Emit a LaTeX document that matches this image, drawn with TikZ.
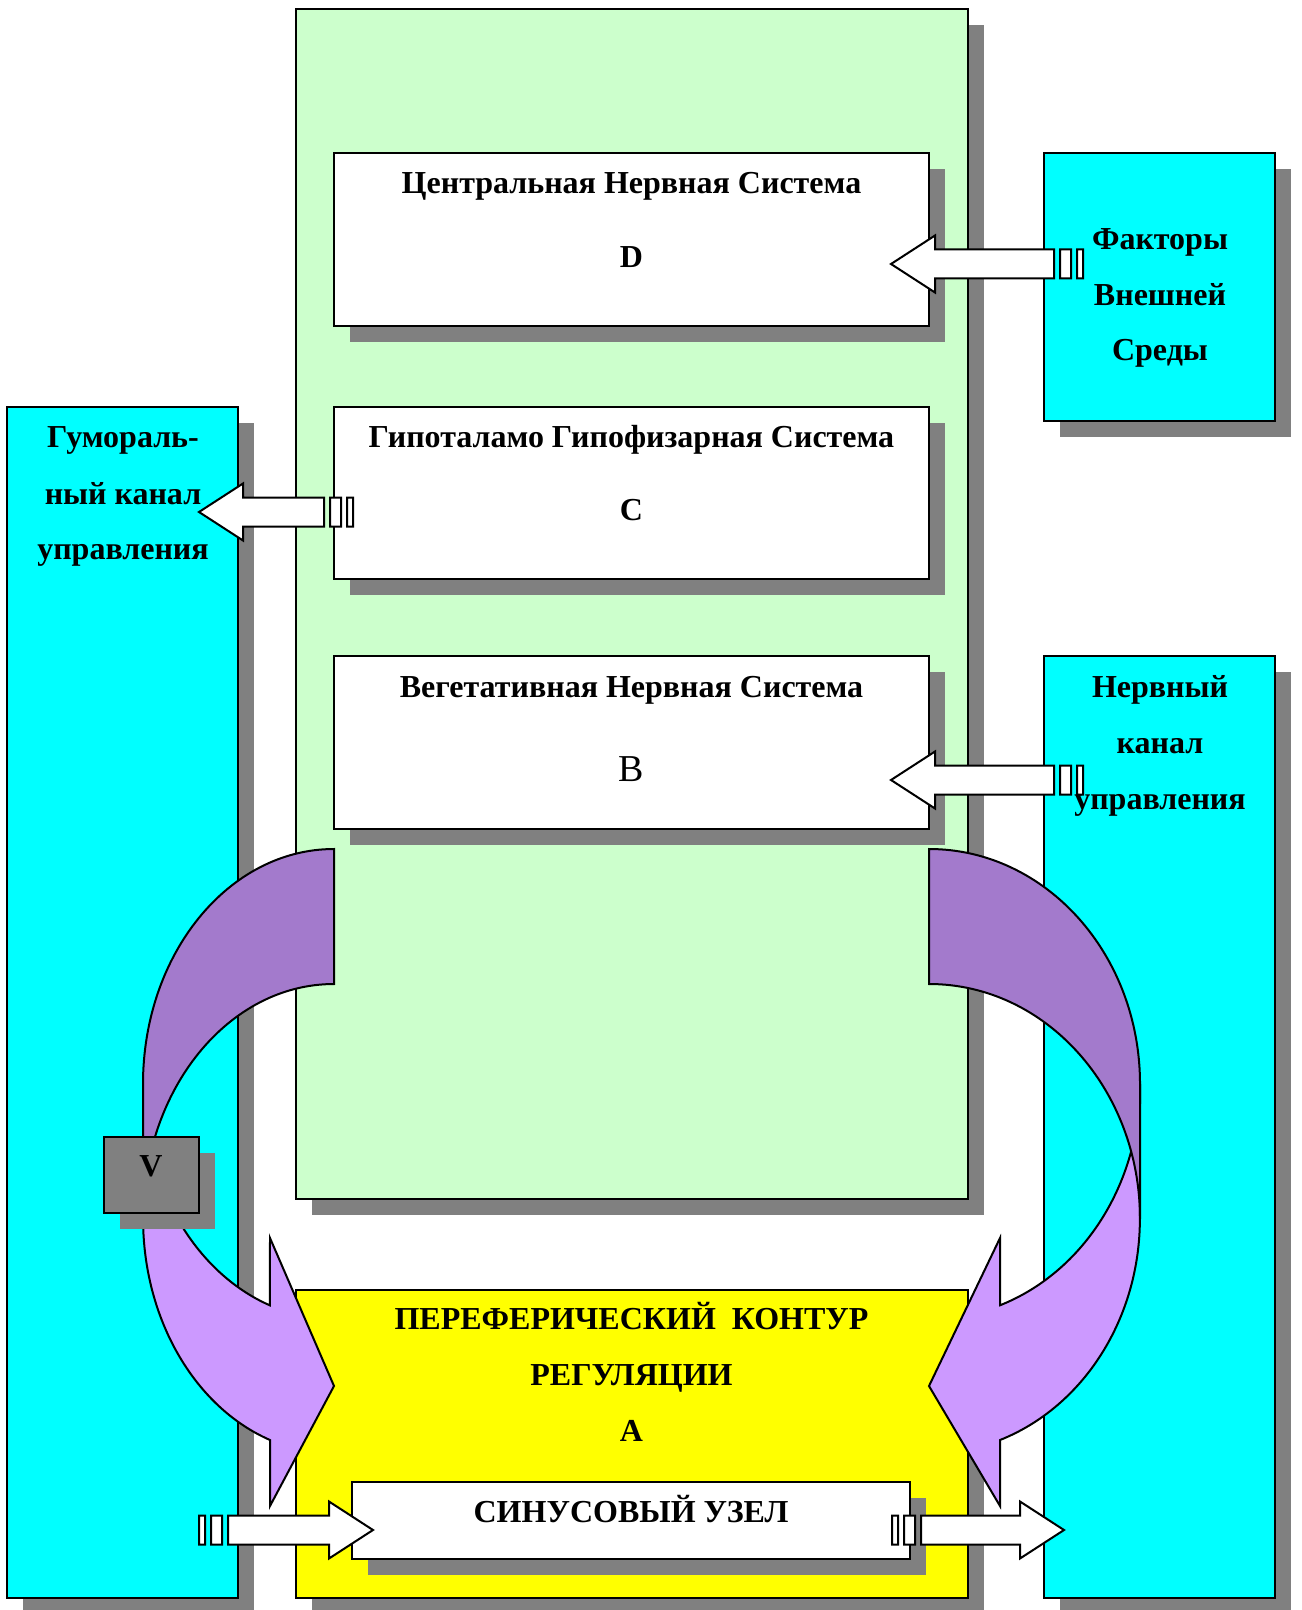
\documentclass[tikz,border=0pt]{standalone}
\usepackage{fontspec}
\setmainfont{Liberation Serif}
\usetikzlibrary{calc,fit,shadows}

\definecolor{greenfill}{HTML}{CCFFCC}
\definecolor{cyanfill}{HTML}{00FFFF}
\definecolor{yellowfill}{HTML}{FFFF00}
\definecolor{shadowgray}{HTML}{808080}
\definecolor{lightviolet}{HTML}{CC99FF}
\definecolor{darkviolet}{HTML}{A37ACC}

% block arrow with two stripes at the tail, from #1 (tail) to #2 (tip)
\newcommand{\stripedarrow}[2]{%
  \draw[blockarrow] let \p1=(#1), \p2=(#2), \n1={sign(\x2-\x1)} in
    (\x1,{\y1-7.25pt}) rectangle ({\x1+\n1*3pt},{\y1+7.25pt})
    ({\x1+\n1*6pt},{\y1-7.25pt}) rectangle ({\x1+\n1*11.5pt},{\y1+7.25pt})
    ({\x1+\n1*14.5pt},{\y1-7.25pt}) -- ({\x2-\n1*22pt},{\y1-7.25pt})
    -- ({\x2-\n1*22pt},{\y1-14.25pt}) -- (\x2,\y1)
    -- ({\x2-\n1*22pt},{\y1+14.25pt}) -- ({\x2-\n1*22pt},{\y1+7.25pt})
    -- ({\x1+\n1*14.5pt},{\y1+7.25pt}) -- cycle;}

\begin{document}
\begin{tikzpicture}[x=0.5pt,y=-0.5pt,
  box/.style={draw,line width=1pt,inner sep=0pt,
    general shadow={fill=shadowgray,shadow xshift=8pt,shadow yshift=-8pt}},
  lbl/.style={font=\bfseries\fontsize{16}{19}\selectfont,inner sep=0pt,
    text height=10.6pt,text depth=0pt},
  curvearrow/.style={draw,line width=1pt},
  blockarrow/.style={draw,fill=white,line width=1pt}]

  \useasboundingbox (0,0) rectangle (1301,1610);

  % boxes
  \node[box,fill=greenfill,fit={(296,9) (968,1199)}] (frame) {};
  \node[box,fill=cyanfill,fit={(7,407) (238,1598)}] (humoral) {};
  \node[box,fill=cyanfill,fit={(1044,153) (1275,421)}] (external) {};
  \node[box,fill=cyanfill,fit={(1044,656) (1275,1598)}] (nervous) {};
  \node[box,fill=white,fit={(334,153) (929,326)}] (cns) {};
  \node[box,fill=white,fit={(334,407) (929,579)}] (hypo) {};
  \node[box,fill=white,fit={(334,656) (929,829)}] (veg) {};
  \node[box,fill=yellowfill,fit={(296,1290) (968,1598)}] (periph) {};
  \node[box,fill=white,fit={(352,1482) (910,1559)}] (sinus) {};

  % curved arrows
  \draw[curvearrow,fill=lightviolet] (143,1084)
    arc[start angle=180,end angle=109.6,x radius=191,y radius=235]
    -- (270,1238) -- (334,1386) -- (270,1506) -- (270,1440)
    arc[start angle=109.6,end angle=180,x radius=191,y radius=235] -- cycle;
  \draw[curvearrow,fill=darkviolet] (334,849)
    arc[start angle=270,end angle=180,x radius=191,y radius=235]
    -- (143,1219)
    arc[start angle=180,end angle=270,x radius=191,y radius=235] -- cycle;
  \draw[curvearrow,fill=lightviolet] (1140,1084)
    arc[start angle=0,end angle=70.3,x radius=211,y radius=235]
    -- (1000,1238) -- (929,1386) -- (1000,1506) -- (1000,1440)
    arc[start angle=70.3,end angle=0,x radius=211,y radius=235] -- cycle;
  \draw[curvearrow,fill=darkviolet] (929,849)
    arc[start angle=-90,end angle=0,x radius=211,y radius=235]
    -- (1140,1219)
    arc[start angle=0,end angle=-90,x radius=211,y radius=235] -- cycle;

  \node[box,fill=shadowgray,fit={(104,1137) (199,1213)}] (vbox) {};

  % straight arrows
  \coordinate (ext-out) at (1083,264);
  \coordinate (cns-in) at (891,264);
  \coordinate (hypo-out) at (353,512);
  \coordinate (hum-in) at (199,512);
  \coordinate (nerv-out) at (1083,780);
  \coordinate (veg-in) at (891,780);
  \coordinate (hum-out) at (199,1530);
  \coordinate (sinus-in) at (373,1530);
  \coordinate (sinus-out) at (892,1530);
  \coordinate (nerv-in) at (1064,1530);

  \stripedarrow{ext-out}{cns-in}
  \stripedarrow{hypo-out}{hum-in}
  \stripedarrow{nerv-out}{veg-in}
  \stripedarrow{hum-out}{sinus-in}
  \stripedarrow{sinus-out}{nerv-in}

  % labels
  \node[lbl] (cns-t) at (631.5,183) {Центральная Нервная Система};
  \node[lbl] (cns-l) at (631.5,257) {D};
  \node[lbl] (hypo-t) at (631.5,437) {Гипоталамо Гипофизарная Система};
  \node[lbl] (hypo-l) at (631.5,510) {C};
  \node[lbl] (veg-t) at (631.5,687) {Вегетативная Нервная Система};
  \node[lbl,font=\fontsize{19}{23}\selectfont,text height=12.6pt] (veg-l) at (631.5,769) {B};

  \node[lbl] (ext-1) at (1160,239) {Факторы};
  \node[lbl] (ext-2) at (1160,295) {Внешней};
  \node[lbl] (ext-3) at (1160,350) {Среды};

  \node[lbl] (hum-1) at (123,437) {Гумораль-};
  \node[lbl] (hum-2) at (123,494) {ный канал};
  \node[lbl] (hum-3) at (123,549) {управления};

  \node[lbl] (nerv-1) at (1160,687) {Нервный};
  \node[lbl] (nerv-2) at (1160,743) {канал};
  \node[lbl] (nerv-3) at (1160,799) {управления};

  \node[lbl] (per-1) at (631.5,1319) {ПЕРЕФЕРИЧЕСКИЙ~~КОНТУР};
  \node[lbl] (per-2) at (631.5,1375) {РЕГУЛЯЦИИ};
  \node[lbl] (per-3) at (631.5,1431) {A};
  \node[lbl] (sinus-t) at (631,1512) {СИНУСОВЫЙ УЗЕЛ};
  \node[lbl] (v-t) at (151,1166) {V};
\end{tikzpicture}
\end{document}
